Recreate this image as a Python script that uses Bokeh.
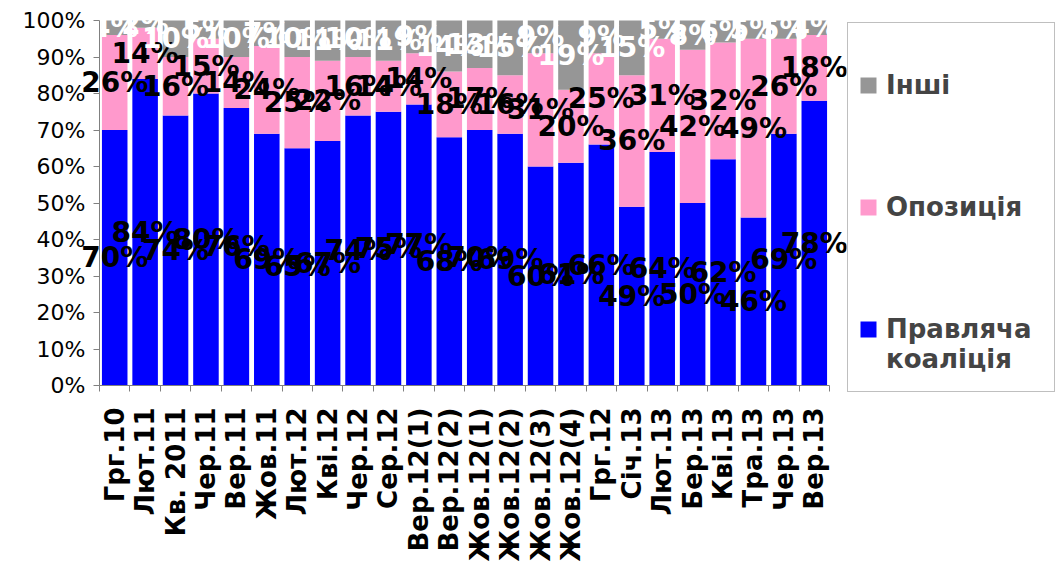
from bokeh.plotting import figure
from bokeh.models import (ColumnDataSource, FixedTicker, Range1d, Legend, LegendItem,
                          PrintfTickFormatter, CustomJSTickFormatter)
from bokeh.core.properties import value
from bokeh.embed import file_html
from bokeh.resources import INLINE

categories = ["Грг.10", "Лют.11", "Кв. 2011", "Чер.11", "Вер.11", "Жов.11", "Лют.12", "Кві.12",
              "Чер.12", "Сер.12", "Вер.12(1)", "Вер.12(2)", "Жов.12(1)", "Жов.12(2)", "Жов.12(3)",
              "Жов.12(4)", "Грг.12", "Січ.13", "Лют.13", "Бер.13", "Кві.13", "Тра.13", "Чер.13", "Вер.13"]
ruling = [70, 84, 74, 80, 76, 69, 65, 67, 74, 75, 77, 68, 70, 69, 60, 61, 66, 49, 64, 50, 62, 46, 69, 78]
opposition = [26, 14, 16, 15, 14, 24, 25, 22, 16, 14, 14, 18, 17, 16, 31, 20, 25, 36, 31, 42, 32, 49, 26, 18]
others = [4, 2, 10, 5, 10, 7, 10, 11, 10, 11, 9, 14, 13, 15, 9, 19, 9, 15, 5, 8, 6, 5, 5, 4]

BLUE = "#0000FF"
PINK = "#FF99CC"
GRAY = "#969696"
FONT = "DejaVu Sans"

n = len(categories)
xs = [i + 0.5 for i in range(n)]
src = ColumnDataSource(dict(x=xs, ruling=ruling, opposition=opposition, others=others))

# layout: the frame covers the axes' labels too, so nothing is clipped
unit_x = 730 / n          # pixels per category
left_extra = 91
frame_w = 838
x0 = -left_extra / unit_x
x1 = x0 + frame_w / unit_x

unit_y = 365 / 100        # pixels per percent
top_extra = 18
frame_h = 568
bottom_extra = frame_h - top_extra - 365
y1 = 100 + top_extra / unit_y
y0 = -bottom_extra / unit_y

p = figure(frame_width=frame_w, frame_height=frame_h, x_range=Range1d(x0, x1), y_range=Range1d(y0, y1),
           output_backend="svg", toolbar_location=None,
           min_border_left=8, min_border_top=2, min_border_right=200, min_border_bottom=0)
p.outline_line_color = None
p.xgrid.visible = False
p.ygrid.visible = False

rs = p.vbar_stack(["ruling", "opposition", "others"], x="x", width=0.84, source=src,
                  color=[BLUE, PINK, GRAY], line_color=None)

# labels
lab_x, lab_y, lab_t = [], [], []
for i in range(n):
    lab_x.append(xs[i]); lab_y.append(ruling[i] / 2); lab_t.append(f"{ruling[i]}%")
for i in range(n):
    lab_x.append(xs[i]); lab_y.append(ruling[i] + opposition[i] / 2); lab_t.append(f"{opposition[i]}%")
lsrc = ColumnDataSource(dict(x=lab_x, y=lab_y, t=lab_t))
p.text(x="x", y="y", text="t", source=lsrc, text_align="center", text_baseline="middle",
       text_font=value(FONT), text_font_style="bold", text_font_size="28px", text_color="black")

gx, gy, gt = [], [], []
for i in range(n):
    gx.append(xs[i]); gy.append(ruling[i] + opposition[i] + others[i] / 2); gt.append(f"{others[i]}%")
gsrc = ColumnDataSource(dict(x=gx, y=gy, t=gt))
p.text(x="x", y="y", text="t", source=gsrc, text_align="center", text_baseline="middle",
       text_font=value(FONT), text_font_style="bold", text_font_size="28px", text_color="white")

# y axis
yax = p.yaxis[0]
yax.fixed_location = 0
yax.bounds = (0, 100)
yax.ticker = FixedTicker(ticks=list(range(0, 101, 10)))
yax.formatter = PrintfTickFormatter(format="%d%%")
yax.major_label_text_font = FONT
yax.major_label_text_font_size = "22px"
yax.major_label_text_color = "black"
yax.axis_line_color = "#808080"
yax.major_tick_line_color = "#808080"
yax.major_tick_out = 6
yax.major_tick_in = 0
yax.minor_tick_line_color = None
yax.major_label_standoff = 8

# x axis
xax = p.xaxis[0]
xax.fixed_location = 0
xax.bounds = (0, n)
xax.ticker = FixedTicker(ticks=xs, minor_ticks=list(range(0, n + 1)))
xax.formatter = CustomJSTickFormatter(args=dict(labels=categories),
                                      code="return labels[Math.floor(tick)] || '';")
xax.major_label_orientation = 1.5707963
xax.major_label_text_font = FONT
xax.major_label_text_font_style = "bold"
xax.major_label_text_font_size = "26px"
xax.major_label_text_color = "black"
xax.axis_line_color = "#808080"
xax.major_tick_line_color = None
xax.major_tick_out = 0
xax.major_tick_in = 0
xax.minor_tick_line_color = "#808080"
xax.minor_tick_out = 6
xax.minor_tick_in = 0
xax.major_label_standoff = 16

legend = Legend(items=[LegendItem(label="Інші", renderers=[rs[2]]),
                       LegendItem(label="Опозиція", renderers=[rs[1]]),
                       LegendItem(label="\nПравляча\nкоаліція", renderers=[rs[0]])],
                location=(1, 178))
legend.border_line_color = "#808080"
legend.border_line_width = 1
legend.background_fill_color = "white"
legend.background_fill_alpha = 1
legend.label_text_font = FONT
legend.label_text_font_style = "bold"
legend.label_text_font_size = "26px"
legend.label_text_line_height = 1.35
legend.glyph_width = 20
legend.glyph_height = 20
legend.label_standoff = 8
legend.padding = 10
legend.label_height = 104
legend.spacing = 18
legend.margin = 0
legend.label_width = 158
p.add_layout(legend, "right")

open("out.html", "w").write(file_html(p, INLINE))
